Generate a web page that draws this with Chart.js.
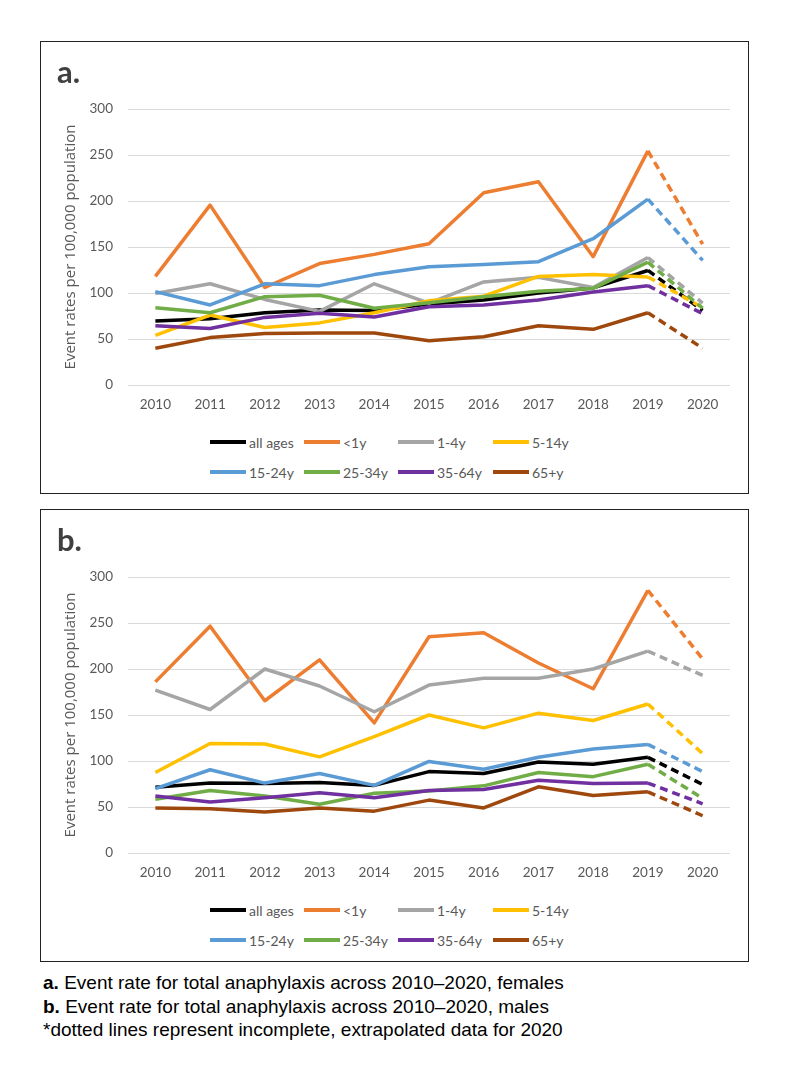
<!DOCTYPE html>
<html>
<head>
<meta charset="utf-8">
<script src="https://cdn.jsdelivr.net/npm/chart.js@4.4.1/dist/chart.umd.min.js"></script>
<style>
  body { margin: 0; background: #fff; }
  #page { position: relative; width: 789px; height: 1068px; }
  .panel { position: absolute; left: 40px; width: 709px; height: 453px; outline: 1.5px solid #222; outline-offset: -1.5px; }
  .panel canvas { position: absolute; left: 0; top: 0; }
  .legend-item { position: absolute; height: 20px; display: flex; align-items: center; font: 14px Lato, sans-serif; color: #595959; white-space: nowrap; }
  .legend-item .swatch { display: inline-block; width: 36px; height: 3.5px; margin-right: 3px; }
  .caption { position: absolute; left: 43px; top: 971px; font: 19px/23.5px "Liberation Sans", Arial, sans-serif; color: #000; }
</style>
</head>
<body>
<div id="page">
  <div class="panel" id="panelA" style="top:41px"><canvas id="chartA" width="709" height="390"></canvas></div>
  <div class="panel" id="panelB" style="top:509px"><canvas id="chartB" width="709" height="390"></canvas></div>
  <div class="caption">
    <div><b>a.</b> Event rate for total anaphylaxis across 2010–2020, females</div>
    <div><b>b.</b> Event rate for total anaphylaxis across 2010–2020, males</div>
    <div>*dotted lines represent incomplete, extrapolated data for 2020</div>
  </div>
</div>
<script>
const years = ['2010', '2011', '2012', '2013', '2014', '2015', '2016', '2017', '2018', '2019', '2020'];
const groups = ['all ages', '<1y', '1-4y', '5-14y', '15-24y', '25-34y', '35-64y', '65+y'];
const yTicks = [0, 50, 100, 150, 200, 250, 300];

// females (panel a)
const femaleAllAges = [69.5, 72, 78.5, 81.5, 81, 88, 92.5, 100, 105.5, 124.5, 81];
const femaleUnder1  = [118, 195.5, 106, 132, 142, 153.5, 209, 221, 139.5, 254.5, 153];
const female1to4    = [99.5, 110, 93, 80, 110, 89, 112, 117, 106, 138.5, 89];
const female5to14   = [54, 76, 62.5, 67.5, 78.5, 91.5, 96.5, 118, 120, 117.5, 84];
const female15to24  = [101.5, 87, 110, 108, 120, 128.5, 131, 134, 159, 202, 135.5];
const female25to34  = [84, 78.5, 96, 97.5, 83.5, 89.5, 96, 102, 105, 133.5, 83.5];
const female35to64  = [64.5, 61.5, 73.5, 78, 74, 85, 87, 92.5, 101, 108, 77.5];
const female65plus  = [40, 51.5, 56, 56.5, 56.5, 48, 52.5, 64.5, 60.5, 78.5, 40];

// males (panel b)
const maleAllAges = [71.5, 76, 75.5, 76.5, 73.5, 88.5, 86.5, 99, 96.5, 104, 74.5];
const maleUnder1  = [186, 246.5, 165.5, 210, 141.5, 235, 239.5, 206.5, 178.5, 285.5, 211];
const male1to4    = [177, 156, 200, 181.5, 153.5, 182.5, 190, 190, 200, 219.5, 193];
const male5to14   = [87.5, 119, 118.5, 104.5, 126.5, 150, 136, 152, 144, 162, 108];
const male15to24  = [70, 90.5, 76, 86.5, 73.5, 99.5, 91, 104, 113, 118, 88.5];
const male25to34  = [58.5, 68, 62, 53, 65, 67.5, 73, 87.5, 83, 96.5, 59.5];
const male35to64  = [62, 55.5, 60, 65.5, 60, 68, 69, 79, 75.5, 76, 53.5];
const male65plus  = [49, 48, 44.5, 49, 45.5, 57.5, 49, 72, 62.5, 66.5, 40.5];

const colours = ['#000000', '#ED7D31', '#A5A5A5', '#FFC000', '#5B9BD5', '#70AD47', '#7030A0', '#9E480E'];

const femaleSeries = [femaleAllAges, femaleUnder1, female1to4, female5to14, female15to24, female25to34, female35to64, female65plus];
const maleSeries = [maleAllAges, maleUnder1, male1to4, male5to14, male15to24, male25to34, male35to64, male65plus];

Chart.defaults.font.family = 'Lato, sans-serif';
Chart.defaults.color = '#595959';

function makeChart(canvasId, panelLabel, series) {
  const datasets = series.map((values, i) => ({
    label: groups[i],
    data: values,
    borderColor: colours[i],
    backgroundColor: colours[i],
    borderWidth: 3.5,
    pointRadius: 0,
    tension: 0,
    borderJoinStyle: 'round',
    borderCapStyle: 'butt',
    order: groups.length - i, // later series on top, like Excel
    segment: {
      // last year is extrapolated -> dashed
      borderDash: ctx => ctx.p1DataIndex === years.length - 1 ? [8, 5] : undefined
    }
  }));

  return new Chart(document.getElementById(canvasId), {
    type: 'line',
    data: { labels: years, datasets: datasets },
    options: {
      responsive: false,
      animation: false,
      layout: { padding: { left: 17, right: 19, top: 0, bottom: 0 } },
      plugins: {
        legend: { display: false },
        tooltip: { enabled: false },
        title: {
          display: true,
          text: panelLabel,
          align: 'start',
          color: '#404040',
          font: { size: 31, weight: 'bold', lineHeight: 1 },
          padding: { top: 16, bottom: 21 }
        }
      },
      scales: {
        x: {
          offset: true,
          grid: { display: false, drawTicks: false },
          border: { display: false },
          ticks: { padding: 12, font: { size: 13.5 }, color: '#595959' },
          afterFit: scale => { scale.height = 46; }
        },
        y: {
          min: yTicks[0],
          max: yTicks[yTicks.length - 1],
          ticks: { stepSize: yTicks[1] - yTicks[0], padding: 15, font: { size: 13.5 }, color: '#595959' },
          grid: { color: '#D9D9D9', lineWidth: 1, drawTicks: false },
          border: { display: false },
          title: {
            display: true,
            text: 'Event rates per 100,000 population',
            color: '#595959',
            font: { family: '"Open Sans", sans-serif', size: 15 },
            padding: { top: 5, bottom: 0 }
          },
          afterFit: scale => { scale.width = 71; }
        }
      }
    }
  });
}

function makeLegend(panelId) {
  const panel = document.getElementById(panelId);
  const rowCentres = [401, 431];
  const colLefts = [170, 264, 358, 453];
  groups.forEach((name, i) => {
    const item = document.createElement('div');
    item.className = 'legend-item';
    item.style.left = colLefts[i % 4] + 'px';
    item.style.top = (rowCentres[Math.floor(i / 4)] - 10) + 'px';
    const sw = document.createElement('span');
    sw.className = 'swatch';
    sw.style.background = colours[i];
    item.appendChild(sw);
    item.appendChild(document.createTextNode(name));
    panel.appendChild(item);
  });
}

makeChart('chartA', 'a.', femaleSeries);
makeChart('chartB', 'b.', maleSeries);
makeLegend('panelA');
makeLegend('panelB');
</script>
</body>
</html>
